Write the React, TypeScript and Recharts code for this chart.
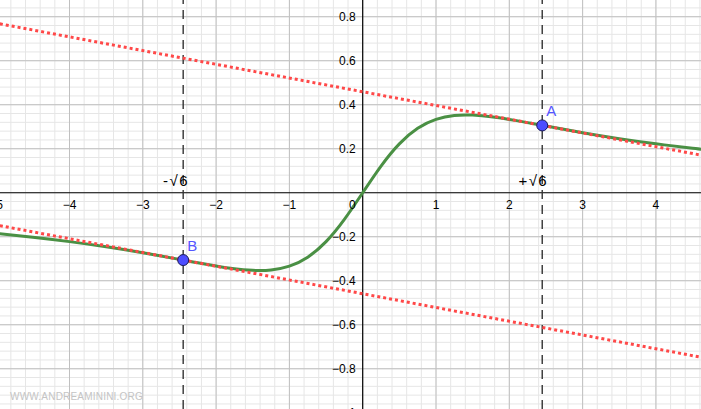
import React from "react";
import { ComposedChart, Line, XAxis, YAxis, ReferenceLine, ReferenceDot } from "recharts";

const curveX = [-4.95, -4.5, -4, -3.5, -3, -2.5, -2.25, -2, -1.75, -1.5, -1.41, -1.25, -1, -0.75, -0.5, -0.25, 0, 0.25, 0.5, 0.75, 1, 1.25, 1.41, 1.5, 1.75, 2, 2.25, 2.5, 3, 3.5, 4, 4.5, 4.62];
const curveY = [-0.1868, -0.2022, -0.2222, -0.2456, -0.2727, -0.303, -0.3186, -0.3333, -0.3457, -0.3529, -0.3536, -0.3509, -0.3333, -0.2927, -0.2222, -0.1212, 0, 0.1212, 0.2222, 0.2927, 0.3333, 0.3509, 0.3536, 0.3529, 0.3457, 0.3333, 0.3186, 0.303, 0.2727, 0.2456, 0.2222, 0.2022, 0.1979];

const tangentAX = [-4.95, 4.62];
const tangentAY = [0.7677, 0.1707];
const tangentBX = [-4.95, 4.62];
const tangentBY = [-0.1497, -0.7479];

const pointA = { x: 2.449, y: 0.306, name: "A" };
const pointB = { x: -2.449, y: -0.306, name: "B" };
const sqrtLabels = [
  { x: -2.449, text: "-√6" },
  { x: 2.449, text: "+√6" },
];

const minorX = [-4.8, -4.6, -4.4, -4.2, -4, -3.8, -3.6, -3.4, -3.2, -3, -2.8, -2.6, -2.4, -2.2, -2, -1.8, -1.6, -1.4, -1.2, -1, -0.8, -0.6, -0.4, -0.2, 0, 0.2, 0.4, 0.6, 0.8, 1, 1.2, 1.4, 1.6, 1.8, 2, 2.2, 2.4, 2.6, 2.8, 3, 3.2, 3.4, 3.6, 3.8, 4, 4.2, 4.4, 4.6];
const minorY = [-0.96, -0.92, -0.88, -0.84, -0.8, -0.76, -0.72, -0.68, -0.64, -0.6, -0.56, -0.52, -0.48, -0.44, -0.4, -0.36, -0.32, -0.28, -0.24, -0.2, -0.16, -0.12, -0.08, -0.04, 0, 0.04, 0.08, 0.12, 0.16, 0.2, 0.24, 0.28, 0.32, 0.36, 0.4, 0.44, 0.48, 0.52, 0.56, 0.6, 0.64, 0.68, 0.72, 0.76, 0.8, 0.84];
const majorX = [-4, -3, -2, -1, 1, 2, 3, 4];
const majorY = [-0.8, -0.6, -0.4, -0.2, 0.2, 0.4, 0.6, 0.8];
const xTickLabels = [-5, -4, -3, -2, -1, 1, 2, 3, 4];
const yTickLabels = [-1, -0.8, -0.6, -0.4, -0.2, 0.2, 0.4, 0.6, 0.8];

const curveData = curveX.map((x, i) => ({ x, y: curveY[i] }));
const tangentA = tangentAX.map((x, i) => ({ x, y: tangentAY[i] }));
const tangentB = tangentBX.map((x, i) => ({ x, y: tangentBY[i] }));

const FONT = "'Liberation Sans', Arial, sans-serif";
const fmt = (v: number) => (v < 0 ? "\u2212" + String(-v) : String(v));

const center = (vb: any) => ({ cx: vb.x + (vb.width || 0) / 2, cy: vb.y + (vb.height || 0) / 2 });

const makeLabel = (text: string, dx: number, dy: number, anchor: string, size: number, color: string, extra: any = {}) =>
  (props: any) => {
    const { cx, cy } = center(props.viewBox);
    return (
      <text x={cx + dx} y={cy + dy} textAnchor={anchor as any} fontSize={size} fill={color} fontFamily={FONT} {...extra}>
        {text}
      </text>
    );
  };

export default function App() {
  return (
    <div style={{ position: "absolute", left: 0, top: 0, width: 701, height: 409, overflow: "hidden", background: "#fff" }}>
      <ComposedChart width={701} height={409} data={curveData} margin={{ top: 0, right: 0, bottom: 0, left: 0 }}>
        <XAxis type="number" dataKey="x" domain={[-4.948, 4.615]} allowDataOverflow hide />
        <YAxis type="number" domain={[-0.983, 0.876]} allowDataOverflow hide />
        {minorX.map((v) => (
          <ReferenceLine key={"mx" + v} x={v} stroke="#e6e6e6" strokeWidth={1} />
        ))}
        {minorY.map((v) => (
          <ReferenceLine key={"my" + v} y={v} stroke="#e6e6e6" strokeWidth={1} />
        ))}
        {majorX.map((v) => (
          <ReferenceLine key={"Mx" + v} x={v} stroke="#c0c0c0" strokeWidth={1} />
        ))}
        {majorY.map((v) => (
          <ReferenceLine key={"My" + v} y={v} stroke="#c0c0c0" strokeWidth={1} />
        ))}
        <ReferenceLine x={0} stroke="#000" strokeWidth={1.2} />
        <ReferenceLine y={0} stroke="#000" strokeWidth={1.2} />
        {sqrtLabels.map((s) => (
          <ReferenceLine key={"d" + s.x} x={s.x} stroke="#333" strokeWidth={1.4} strokeDasharray="9 6" />
        ))}
        <Line dataKey="y" type="natural" stroke="#4a9044" strokeWidth={3} dot={false} isAnimationActive={false} />
        <Line data={tangentA} dataKey="y" type="linear" stroke="#ff4848" strokeWidth={3} strokeDasharray="3 3" dot={false} isAnimationActive={false} />
        <Line data={tangentB} dataKey="y" type="linear" stroke="#ff4848" strokeWidth={3} strokeDasharray="3 3" dot={false} isAnimationActive={false} />
        {xTickLabels.map((v) => (
          <ReferenceDot key={"xl" + v} x={v} y={0} r={0} ifOverflow="visible" fill="none" stroke="none" label={makeLabel(fmt(v), 0, 16, "middle", 12, "#000")} />
        ))}
        {yTickLabels.map((v) => (
          <ReferenceDot key={"yl" + v} x={0} y={v} r={0} ifOverflow="visible" fill="none" stroke="none" label={makeLabel(fmt(v), -7, 4.3, "end", 12, "#000")} />
        ))}
        <ReferenceDot x={0} y={0} r={0} ifOverflow="visible" fill="none" stroke="none" label={makeLabel("0", -7, 16, "end", 12, "#000")} />
        {sqrtLabels.map((s) => (
          <ReferenceDot key={"sl" + s.x} x={s.x} y={0} r={0} ifOverflow="visible" fill="none" stroke="none" label={makeLabel(s.text, 6, -7, "end", 15, "#000", { letterSpacing: 1.5 })} />
        ))}
        {[pointA, pointB].map((p) => (
          <ReferenceDot key={p.name} x={p.x} y={p.y} r={5.5} ifOverflow="visible" fill="#4d4dff" stroke="#1a1a5a" strokeWidth={1} label={makeLabel(p.name, 4, -9.5, "start", 15, "#5555ff")} />
        ))}
      </ComposedChart>
      <div style={{ position: "absolute", left: 10, top: 391, fontFamily: FONT, fontSize: 10, color: "#c4c4c4", letterSpacing: 0.2, whiteSpace: "nowrap" }}>
        WWW.ANDREAMININI.ORG
      </div>
    </div>
  );
}
